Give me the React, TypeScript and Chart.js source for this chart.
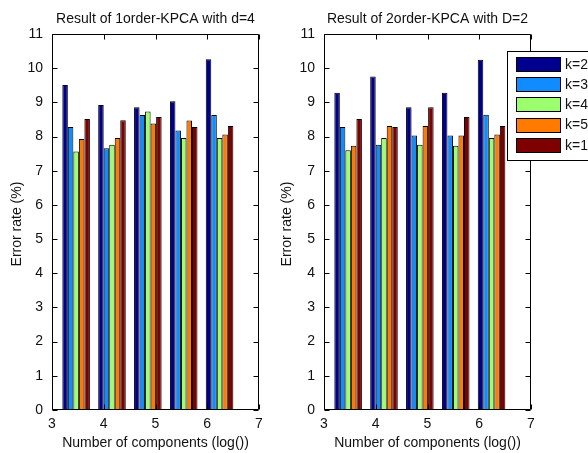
import { useEffect, useRef } from 'react';
import { Chart, registerables } from 'chart.js';

Chart.register(...registerables);

// x positions: log(number of components)
const logComponents = [3.466, 4.159, 4.852, 5.545, 6.238];

const seriesLabels = ['k=2', 'k=3', 'k=4', 'k=5', 'k=10'];
const seriesColors = ['#00008f', '#108cff', '#9cff6e', '#ff7a00', '#7f0000'];

// Left: 1order-KPCA with d=4
const leftK2 = [9.51, 8.92, 8.86, 9.03, 10.26];
const leftK3 = [8.28, 7.66, 8.63, 8.18, 8.63];
const leftK4 = [7.56, 7.76, 8.73, 7.96, 7.96];
const leftK5 = [7.93, 7.96, 8.38, 8.47, 8.06];
const leftK10 = [8.51, 8.48, 8.57, 8.28, 8.31];

// Right: 2order-KPCA with D=2
const rightK2 = [9.28, 9.76, 8.86, 9.28, 10.25];
const rightK3 = [8.28, 7.76, 8.03, 8.03, 8.64];
const rightK4 = [7.6, 7.96, 7.76, 7.73, 7.96];
const rightK5 = [7.73, 8.31, 8.31, 8.03, 8.06];
const rightK10 = [8.51, 8.28, 8.86, 8.57, 8.31];

const leftTitle = 'Result of 1order-KPCA with d=4';
const rightTitle = 'Result of 2order-KPCA with D=2';
const xTitle = 'Number of components (log())';
const yTitle = 'Error rate (%)';

const W = 588;
const H = 453;
const FONT = '14px "Liberation Sans", Arial, sans-serif';
const TEXT = '#111';

const matlabPlugin = {
  id: 'matlabDecor',
  afterDatasetsDraw(chart: any, _args: any, opts: any) {
    const ctx = chart.ctx as CanvasRenderingContext2D;
    const a = chart.chartArea;
    const xs = chart.scales.x;
    const ys = chart.scales.y;
    const L = Math.round(a.left) + 0.5;
    const R = Math.round(a.right) - 0.5;
    const T = Math.round(a.top) + 0.5;
    const B = Math.round(a.bottom) - 0.5;
    ctx.save();
    ctx.strokeStyle = '#000';
    ctx.lineWidth = 1;
    ctx.beginPath();
    ctx.rect(L, T, R - L, B - T);
    const tl = 5;
    ys.ticks.forEach((t: any) => {
      const py = Math.round(ys.getPixelForValue(t.value)) + 0.5;
      ctx.moveTo(L, py);
      ctx.lineTo(L + tl, py);
      ctx.moveTo(R, py);
      ctx.lineTo(R - tl, py);
    });
    xs.ticks.forEach((t: any) => {
      const px = Math.round(xs.getPixelForValue(t.value)) + 0.5;
      ctx.moveTo(px, B);
      ctx.lineTo(px, B - tl);
      ctx.moveTo(px, T);
      ctx.lineTo(px, T + tl);
    });
    ctx.stroke();

    ctx.fillStyle = TEXT;
    ctx.font = FONT;
    ctx.textAlign = 'center';
    ctx.textBaseline = 'middle';
    const cx = (a.left + a.right) / 2;
    ctx.fillText(opts.title, cx, 19);
    ctx.fillText(xTitle, cx, 443);
    ctx.save();
    ctx.translate(opts.yLabelX, (a.top + a.bottom) / 2 + 2);
    ctx.rotate(-Math.PI / 2);
    ctx.fillText(yTitle, 0, 0);
    ctx.restore();

    if (opts.legend) {
      const lx = 507.5;
      const ly = 51.5;
      const lw = 120;
      const lh = 109;
      ctx.fillStyle = '#fff';
      ctx.fillRect(lx, ly, lw, lh);
      ctx.strokeStyle = '#000';
      ctx.strokeRect(lx, ly, lw, lh);
      chart.data.datasets.forEach((ds: any, i: number) => {
        const cy = 64 + i * 20.2;
        ctx.fillStyle = ds.backgroundColor;
        ctx.fillRect(516.5, Math.round(cy - 7) + 0.5, 44, 14);
        ctx.strokeStyle = '#000';
        ctx.strokeRect(516.5, Math.round(cy - 7) + 0.5, 44, 14);
        ctx.fillStyle = TEXT;
        ctx.textAlign = 'left';
        ctx.fillText(ds.label, 565, cy + 1);
      });
    }
    ctx.restore();
  },
};

function buildConfig(series: number[][], title: string, left: number, right: number, yLabelX: number, legend: boolean): any {
  return {
    type: 'bar',
    data: {
      datasets: series.map((vals, i) => ({
        label: seriesLabels[i],
        data: vals.map((v, j) => ({ x: logComponents[j], y: v })),
        backgroundColor: seriesColors[i],
        borderColor: '#000',
        borderWidth: 1,
        borderSkipped: false,
        categoryPercentage: 0.769,
        barPercentage: 1,
      })),
    },
    options: {
      responsive: false,
      animation: false,
      events: [],
      layout: { padding: { left: 0, top: 34, right: W - right, bottom: 0 } },
      plugins: {
        legend: { display: false },
        title: { display: false },
        tooltip: { enabled: false },
        matlabDecor: { title, yLabelX, legend },
      },
      scales: {
        x: {
          type: 'linear',
          min: 3,
          max: 7,
          offset: false,
          grid: { display: false, drawTicks: false, offset: false },
          border: { display: false },
          ticks: { stepSize: 1, padding: 6, color: TEXT, font: { family: '"Liberation Sans", Arial, sans-serif', size: 14 }, maxRotation: 0 },
          afterFit: (s: any) => { s.height = 43; },
        },
        y: {
          min: 0,
          max: 11,
          grid: { display: false, drawTicks: false },
          border: { display: false },
          ticks: { stepSize: 1, padding: 9, color: TEXT, font: { family: '"Liberation Sans", Arial, sans-serif', size: 14 } },
          afterFit: (s: any) => { s.width = left; },
        },
      },
    },
    plugins: [matlabPlugin],
  };
}

export default function App() {
  const leftRef = useRef<HTMLCanvasElement>(null);
  const rightRef = useRef<HTMLCanvasElement>(null);
  useEffect(() => {
    const c1 = new Chart(leftRef.current!, buildConfig([leftK2, leftK3, leftK4, leftK5, leftK10], leftTitle, 52, 259, 17, false));
    const c2 = new Chart(rightRef.current!, buildConfig([rightK2, rightK3, rightK4, rightK5, rightK10], rightTitle, 324, 531, 287, true));
    return () => {
      c1.destroy();
      c2.destroy();
    };
  }, []);
  return (
    <div style={{ position: 'fixed', left: 0, top: 0, width: W, height: H, background: '#fff', overflow: 'hidden' }}>
      <canvas ref={leftRef} width={W} height={H} style={{ position: 'absolute', left: 0, top: 0 }} />
      <canvas ref={rightRef} width={W} height={H} style={{ position: 'absolute', left: 0, top: 0 }} />
    </div>
  );
}
